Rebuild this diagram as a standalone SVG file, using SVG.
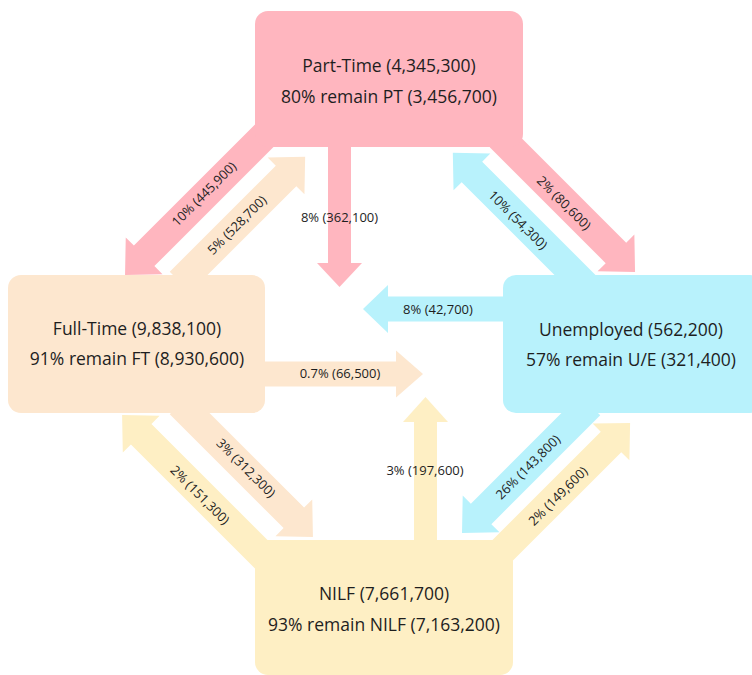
<svg xmlns="http://www.w3.org/2000/svg" width="752" height="675" viewBox="0 0 752 675">
<style>
.pk{fill:#FFB6BF}
.pc{fill:#FDE7CF}
.bl{fill:#B8F2FC}
.yl{fill:#FEEFC4}
text{font-family:"Open Sans","Liberation Sans",sans-serif;fill:#1e1e1e;text-anchor:middle}
.big{font-size:17.5px}
.lbl{font-size:13px}
</style>
<rect width="752" height="675" fill="#ffffff"/>
<g id="connectors">
  <polygon class="pk" transform="translate(270,130) rotate(135)" points="0,-14.5 178,-14.5 178,-26 205,0 178,26 178,14.5 0,14.5"/>
  <polygon class="pc" transform="translate(180,282) rotate(-45)" points="0,-14.5 150,-14.5 150,-26 177,0 150,26 150,14.5 0,14.5"/>
  <polygon class="pk" transform="translate(500,137) rotate(45)" points="0,-14.5 164,-14.5 164,-26 191,0 164,26 164,14.5 0,14.5"/>
  <polygon class="bl" transform="translate(590,290) rotate(-135)" points="0,-14.5 167,-14.5 167,-26 194,0 167,26 167,14.5 0,14.5"/>
  <polygon class="pc" transform="translate(180,404) rotate(45)" points="0,-14.5 161,-14.5 161,-26 188,0 161,26 161,14.5 0,14.5"/>
  <polygon class="yl" transform="translate(272,565) rotate(-135)" points="0,-14.5 185,-14.5 185,-26 212,0 185,26 185,14.5 0,14.5"/>
  <polygon class="bl" transform="translate(590,405) rotate(135)" points="0,-14.5 154,-14.5 154,-26 181,0 154,26 154,14.5 0,14.5"/>
  <polygon class="yl" transform="translate(500,553) rotate(-45)" points="0,-14.5 157,-14.5 157,-26 184,0 157,26 157,14.5 0,14.5"/>
  <polygon class="pk" transform="translate(339.5,140) rotate(90)" points="0,-11.5 123,-11.5 123,-22.5 147,0 123,22.5 123,11.5 0,11.5"/>
  <polygon class="bl" transform="translate(510,309) rotate(180)" points="0,-12.5 122,-12.5 122,-24 147,0 122,24 122,12.5 0,12.5"/>
  <polygon class="pc" transform="translate(258,374)" points="0,-12.5 138,-12.5 138,-23.5 165,0 138,23.5 138,12.5 0,12.5"/>
  <polygon class="yl" transform="translate(425.5,548) rotate(-90)" points="0,-11.5 126,-11.5 126,-22.5 151,0 126,22.5 126,11.5 0,11.5"/>
  <text class="lbl" transform="translate(204,194) rotate(-45)" dy=".35em">10% (445,900)</text>
  <text class="lbl" transform="translate(237,225) rotate(-45)" dy=".35em">5% (528,700)</text>
  <text class="lbl" transform="translate(564,203) rotate(45)" dy=".35em">2% (80,600)</text>
  <text class="lbl" transform="translate(518,220) rotate(45)" dy=".35em">10% (54,300)</text>
  <text class="lbl" transform="translate(246,468) rotate(45)" dy=".35em">3% (312,300)</text>
  <text class="lbl" transform="translate(200,495) rotate(45)" dy=".35em">2% (151,300)</text>
  <text class="lbl" transform="translate(528,467) rotate(-45)" dy=".35em">26% (143,800)</text>
  <text class="lbl" transform="translate(558,496) rotate(-45)" dy=".35em">2% (149,600)</text>
  <text class="lbl" x="339.5" y="217" dy=".35em">8% (362,100)</text>
  <text class="lbl" x="438" y="309" dy=".35em">8% (42,700)</text>
  <text class="lbl" x="340" y="373" dy=".35em">0.7% (66,500)</text>
  <text class="lbl" x="425" y="470" dy=".35em">3% (197,600)</text>
</g>
<g id="node-parttime">
  <rect class="pk" x="255" y="11" width="268" height="136" rx="13"/>
  <text class="big" x="389" y="72">Part-Time (4,345,300)</text>
  <text class="big" x="389" y="103">80% remain PT (3,456,700)</text>
</g>
<g id="node-fulltime">
  <rect class="pc" x="8" y="275" width="257" height="138" rx="13"/>
  <text class="big" x="137" y="335">Full-Time (9,838,100)</text>
  <text class="big" x="137" y="365">91% remain FT (8,930,600)</text>
</g>
<g id="node-unemployed">
  <rect class="bl" x="503" y="275" width="260" height="138" rx="13"/>
  <text class="big" x="631" y="336">Unemployed (562,200)</text>
  <text class="big" x="631" y="366">57% remain U/E (321,400)</text>
</g>
<g id="node-nilf">
  <rect class="yl" x="255" y="540" width="258" height="135" rx="13"/>
  <text class="big" x="384" y="600">NILF (7,661,700)</text>
  <text class="big" x="384" y="631">93% remain NILF (7,163,200)</text>
</g>
</svg>
